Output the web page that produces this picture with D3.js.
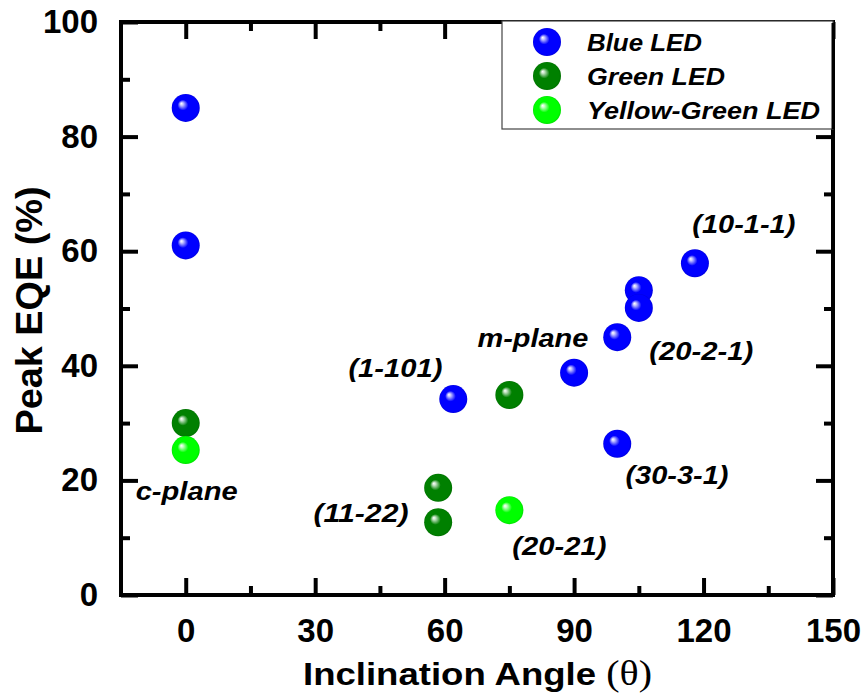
<!DOCTYPE html>
<html>
<head>
<meta charset="utf-8">
<script src="https://cdn.jsdelivr.net/npm/d3@7/dist/d3.min.js"></script>
<style>
  html, body { margin: 0; padding: 0; background: #fff; }
  svg { display: block; }
  text { font-family: "Liberation Sans", Arial, sans-serif; font-weight: bold; fill: #000; }
</style>
</head>
<body>
<svg id="chart" width="866" height="696"></svg>
<script>
// ---------------- data ----------------
const blueAngle = [0, 0, 62, 90, 100, 105, 105, 118, 100];
const blueEQE   = [85, 61, 34.2, 38.8, 45, 53.2, 50.1, 57.9, 26.4];
const greenAngle = [0, 58.5, 58.5, 75];
const greenEQE   = [30, 18.7, 12.7, 34.9];
const ygAngle = [0, 75];
const ygEQE   = [25.3, 14.8];

const seriesNames = ["Blue LED", "Green LED", "Yellow-Green LED"];
const seriesColors = ["#0000ff", "#008000", "#00ff00"];

const xMajorTicks = [0, 30, 60, 90, 120, 150];
const xMinorTicks = [15, 45, 75, 105, 135];
const yMajorTicks = [0, 20, 40, 60, 80, 100];
const yMinorTicks = [10, 30, 50, 70, 90];

const annotText  = ["c-plane", "(1-101)", "m-plane", "(10-1-1)", "(20-2-1)", "(30-3-1)", "(11-22)", "(20-21)"];
const annotAngle = [-11.6, 37.7, 67.6, 117.4, 107.4, 101.9, 29.6, 75.7];
const annotEQE   = [16.6, 38.0, 43.3, 63.2, 41.0, 19.3, 12.8, 7.0];
const annotWidth = [102, 94, 111, 103, 104, 103, 95, 94];

// ---------------- chart ----------------
const svg = d3.select("#chart");
const L = 121, R = 833, T = 22, B = 595;
const x = d3.scaleLinear().domain([-15, 150]).range([L, R]);
const y = d3.scaleLinear().domain([0, 100]).range([B, T]);

const defs = svg.append("defs");
seriesColors.forEach((c, i) => {
  const g = defs.append("radialGradient").attr("id", "ball" + i)
    .attr("cx", "50%").attr("cy", "50%").attr("r", "50%")
    .attr("fx", "34%").attr("fy", "34%");
  const light = d3.interpolateRgb(c, "#ffffff");
  g.append("stop").attr("offset", "0%").attr("stop-color", "#ffffff");
  g.append("stop").attr("offset", "10%").attr("stop-color", light(0.8));
  g.append("stop").attr("offset", "38%").attr("stop-color", c);
  g.append("stop").attr("offset", "90%").attr("stop-color", c);
  g.append("stop").attr("offset", "100%").attr("stop-color", d3.interpolateRgb(c, "#000")(0.12));
});

const tickStroke = 4;
function styleAxis(g) {
  g.select(".domain").remove();
  g.selectAll(".tick line").attr("stroke", "#000").attr("stroke-width", tickStroke);
  g.selectAll(".tick text").style("font-size", "33px").attr("fill", "#000");
}

// bottom
svg.append("g").attr("transform", `translate(0,${B})`)
  .call(d3.axisBottom(x).tickValues(xMajorTicks).tickSize(-17).tickPadding(24).tickFormat(d3.format("d")))
  .call(styleAxis);
svg.append("g").attr("transform", `translate(0,${B})`)
  .call(d3.axisBottom(x).tickValues(xMinorTicks).tickSize(-9).tickFormat(""))
  .call(styleAxis);
// top
svg.append("g").attr("transform", `translate(0,${T})`)
  .call(d3.axisTop(x).tickValues(xMajorTicks).tickSize(-17).tickFormat(""))
  .call(styleAxis);
svg.append("g").attr("transform", `translate(0,${T})`)
  .call(d3.axisTop(x).tickValues(xMinorTicks).tickSize(-9).tickFormat(""))
  .call(styleAxis);
// left
svg.append("g").attr("transform", `translate(${L},0)`)
  .call(d3.axisLeft(y).tickValues(yMajorTicks).tickSize(-17).tickPadding(23).tickFormat(d3.format("d")))
  .call(styleAxis);
svg.append("g").attr("transform", `translate(${L},0)`)
  .call(d3.axisLeft(y).tickValues(yMinorTicks).tickSize(-9).tickFormat(""))
  .call(styleAxis);
// right
svg.append("g").attr("transform", `translate(${R},0)`)
  .call(d3.axisRight(y).tickValues(yMajorTicks).tickSize(-17).tickFormat(""))
  .call(styleAxis);
svg.append("g").attr("transform", `translate(${R},0)`)
  .call(d3.axisRight(y).tickValues(yMinorTicks).tickSize(-9).tickFormat(""))
  .call(styleAxis);

// frame
svg.append("rect").attr("x", L).attr("y", T).attr("width", R - L).attr("height", B - T)
  .attr("fill", "none").attr("stroke", "#000").attr("stroke-width", 4);

// legend box
const legX = 502, legY = 21, legW = R - legX, legH = 108;
svg.append("rect").attr("x", legX).attr("y", legY).attr("width", legW).attr("height", legH)
  .attr("fill", "#fff").attr("stroke", "#444").attr("stroke-width", 1.2);
svg.append("line").attr("x1", R).attr("x2", R).attr("y1", legY + 2).attr("y2", legY + legH)
  .attr("stroke", "#000").attr("stroke-width", 3);

const legWidths = [115, 138, 233];
seriesNames.forEach((n, i) => {
  const cy = 42 + i * 34;
  svg.append("circle").attr("cx", 547).attr("cy", cy).attr("r", 14)
    .attr("fill", `url(#ball${i})`);
  svg.append("text").attr("x", 587).attr("y", cy + 8.5)
    .style("font-size", "24px").style("font-style", "italic")
    .attr("textLength", legWidths[i]).attr("lengthAdjust", "spacingAndGlyphs")
    .text(n);
});

// points
const series = [
  { a: blueAngle, e: blueEQE, i: 0 },
  { a: greenAngle, e: greenEQE, i: 1 },
  { a: ygAngle, e: ygEQE, i: 2 }
];
series.forEach(s => {
  svg.append("g").selectAll("circle").data(s.a.map((a, k) => [a, s.e[k]])).join("circle")
    .attr("cx", d => x(d[0])).attr("cy", d => y(d[1])).attr("r", 14)
    .attr("fill", `url(#ball${s.i})`);
});

// annotations
svg.append("g").selectAll("text").data(annotText.map((t, k) => k)).join("text")
  .attr("x", k => x(annotAngle[k])).attr("y", k => y(annotEQE[k]))
  .style("font-size", "25.5px").style("font-style", "italic")
  .attr("textLength", k => annotWidth[k]).attr("lengthAdjust", "spacingAndGlyphs")
  .text(k => annotText[k]);

// axis titles
const xt = svg.append("text").attr("x", 303).attr("y", 685)
  .style("font-size", "32px")
  .attr("textLength", 349).attr("lengthAdjust", "spacingAndGlyphs");
xt.append("tspan").text("Inclination Angle ");
xt.append("tspan").style("font-family", "'Liberation Serif', 'Times New Roman', serif")
  .style("font-weight", "normal").style("font-size", "35px").text("(θ)");

svg.append("text").attr("transform", `translate(42,${(T + B) / 2 + 2}) rotate(-90)`)
  .attr("text-anchor", "middle").style("font-size", "36px")
  .attr("textLength", 248).attr("lengthAdjust", "spacingAndGlyphs")
  .text("Peak EQE (%)");
</script>
</body>
</html>
